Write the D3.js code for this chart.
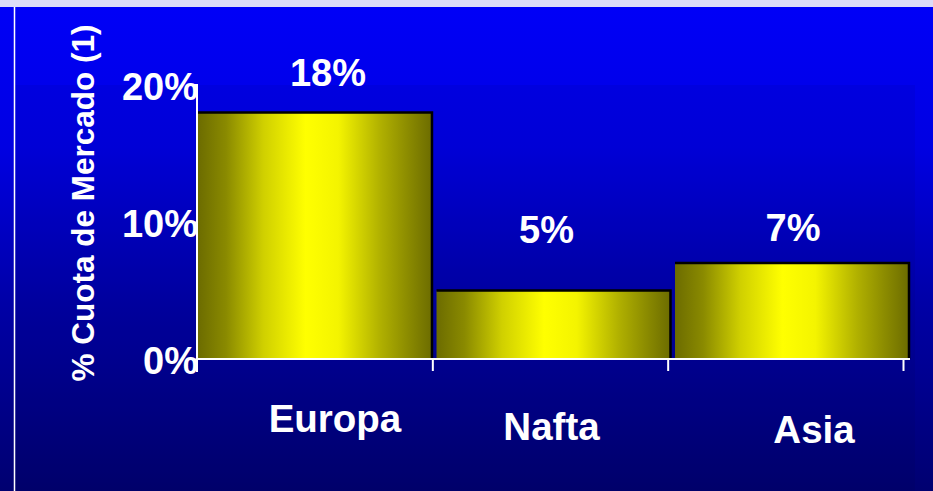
<!DOCTYPE html>
<html>
<head>
<meta charset="utf-8">
<script src="https://cdn.jsdelivr.net/npm/d3@7"></script>
<style>
  body { margin: 0; background: #000080; }
  svg { display: block; }
  text { font-family: "Liberation Sans", Arial, sans-serif; font-weight: bold; fill: #fff; }
</style>
</head>
<body>
<div id="chart"></div>
<script>
// Data
const regions = ["Europa", "Nafta", "Asia"];
const shares = [18, 5, 7];
const yTicks = [0, 10, 20];

const W = 933, H = 491;
const plot = {left: 197, right: 903, top: 85, bottom: 359};

const svg = d3.select("#chart").append("svg")
  .attr("width", W)
  .attr("height", H);

const defs = svg.append("defs");

// background: bright blue on top fading to navy
const bg = defs.append("linearGradient")
  .attr("id", "bg").attr("x1", 0).attr("y1", 0).attr("x2", 0).attr("y2", 1);
[[0, "#0000f8"], [0.3, "#0000e2"], [0.62, "#0000a6"], [1, "#000070"]].forEach(s =>
  bg.append("stop").attr("offset", s[0]).attr("stop-color", s[1]));

// yellow cylinder-ish shading across each bar
const barGrad = defs.append("linearGradient")
  .attr("id", "bar").attr("x1", 0).attr("y1", 0).attr("x2", 1).attr("y2", 0);
[[0, "#6c6c00"], [0.12, "#8a8a00"], [0.28, "#d0d000"], [0.46, "#ffff00"],
 [0.6, "#f4f400"], [0.78, "#b0b000"], [0.92, "#848400"], [1, "#6c6c00"]].forEach(s =>
  barGrad.append("stop").attr("offset", s[0]).attr("stop-color", s[1]));

svg.append("rect").attr("width", W).attr("height", H).attr("fill", "url(#bg)");
// plot panel, a touch darker than the slide edge
svg.append("rect")
  .attr("x", 15).attr("y", 85).attr("width", 900).attr("height", H - 85)
  .attr("fill", "#000").attr("opacity", 0.05);
svg.append("rect").attr("width", W).attr("height", 7).attr("fill", "#dcdcf8");
svg.append("line")
  .attr("x1", 14.5).attr("x2", 14.5).attr("y1", 7).attr("y2", H)
  .attr("stroke", "#fff").attr("stroke-width", 1.5);

// scales (bars run a little past the last tick, as on the slide)
const x = d3.scaleBand()
  .domain(regions)
  .range([plot.left + 1, plot.right + 6])
  .paddingInner(0.019)
  .paddingOuter(0);

const y = d3.scaleLinear()
  .domain([0, 20])
  .range([plot.bottom, plot.top]);

// bars
const bars = svg.append("g");
bars.selectAll("rect.fill")
  .data(shares)
  .enter()
  .append("rect")
  .attr("class", "fill")
  .attr("x", (d, i) => x(regions[i]))
  .attr("y", d => y(d))
  .attr("width", x.bandwidth())
  .attr("height", d => y(0) - y(d))
  .attr("fill", "url(#bar)");

// black edge on top and right
bars.selectAll("path.edge")
  .data(shares)
  .enter()
  .append("path")
  .attr("class", "edge")
  .attr("d", (d, i) => {
    const x0 = x(regions[i]), x1 = x0 + x.bandwidth();
    return `M${x0},${y(d)}H${x1}V${y(0)}`;
  })
  .attr("fill", "none")
  .attr("stroke", "#000")
  .attr("stroke-width", 2.5);

// axes
const yAxis = svg.append("g")
  .attr("transform", `translate(${plot.left},0)`)
  .call(d3.axisLeft(y).tickValues(yTicks).tickSize(4).tickPadding(-5)
    .tickFormat(d => d + "%"));

yAxis.select(".domain").attr("stroke", "#fff").attr("stroke-width", 2)
  .attr("d", `M-4,${plot.top}H0V${plot.bottom + 13}`);
yAxis.selectAll(".tick line").attr("stroke", "#fff").attr("stroke-width", 2);
yAxis.selectAll(".tick text")
  .attr("dy", "0.38em")
  .style("font-size", "38px")
  .style("font-family", "'Liberation Sans', Arial, sans-serif")
  .style("font-weight", "bold")
  .attr("fill", "#fff");

// ticks sit on the category edges
const edge = d3.scaleLinear().domain([0, regions.length]).range([plot.left, plot.right]);
const xAxis = svg.append("g")
  .attr("transform", `translate(0,${plot.bottom})`)
  .call(d3.axisBottom(edge).tickValues(d3.range(1, regions.length + 1)).tickSize(12).tickFormat(""));
xAxis.select(".domain").attr("stroke", "#fff").attr("stroke-width", 2)
  .attr("d", `M${plot.left},0H${plot.right + 7}`);
xAxis.selectAll(".tick line").attr("stroke", "#fff").attr("stroke-width", 2);

// category labels (slide layout nudges them a bit)
const catNudge = [[20, 432], [-2, 440], [22, 443]];
svg.selectAll("text.cat")
  .data(regions)
  .enter()
  .append("text")
  .attr("class", "cat")
  .attr("x", (d, i) => x(d) + x.bandwidth() / 2 + catNudge[i][0])
  .attr("y", (d, i) => catNudge[i][1])
  .attr("text-anchor", "middle")
  .style("font-size", "38.5px")
  .text(d => d);

// value labels above bars
const valNudge = [[13, -26], [-7, -48], [1, -22]];
svg.selectAll("text.val")
  .data(shares)
  .enter()
  .append("text")
  .attr("class", "val")
  .attr("x", (d, i) => x(regions[i]) + x.bandwidth() / 2 + valNudge[i][0])
  .attr("y", (d, i) => y(d) + valNudge[i][1])
  .attr("text-anchor", "middle")
  .style("font-size", "38px")
  .text(d => d + "%");

// y axis title
svg.append("text")
  .attr("transform", "translate(94,203) rotate(-90)")
  .attr("text-anchor", "middle")
  .style("font-size", "31.5px")
  .text("% Cuota de Mercado (1)");
</script>
</body>
</html>
